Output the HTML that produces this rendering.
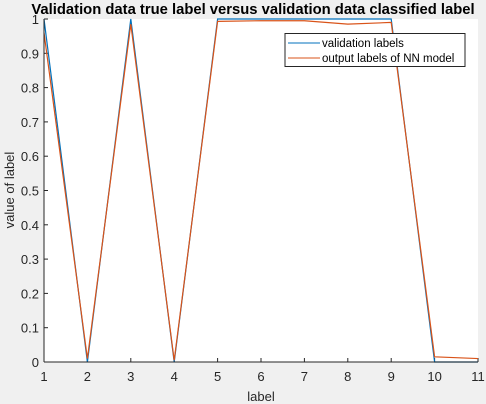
<!DOCTYPE html>
<html><head><meta charset="utf-8"><style>
body{margin:0;background:#f0f0f0;}
svg{display:block;font-family:"Liberation Sans",sans-serif;}
</style></head><body>
<svg id="chart" width="486" height="404">
<rect width="486" height="404" fill="#f0f0f0"/>
<rect x="44" y="19" width="434" height="343" fill="#fff"/>
<text x="253" y="14" text-anchor="middle" font-size="14.8" font-weight="bold" fill="#000">Validation data true label versus validation data classified label</text>
<g id="ticks"></g>
<g id="series"></g>
<line x1="44" y1="19" x2="44" y2="362" stroke="#262626"/>
<line x1="44" y1="362" x2="478" y2="362" stroke="#262626"/>
<text x="261" y="401" text-anchor="middle" font-size="13" fill="#262626">label</text>
<text transform="translate(14,190) rotate(-90)" text-anchor="middle" font-size="13" fill="#262626">value of label</text>
<g>
<rect x="285" y="33.5" width="180" height="33" fill="#fff" stroke="#262626" stroke-width="1"/>
<line x1="288" y1="43" x2="320" y2="43" stroke="#0072bd"/>
<text x="322" y="47" font-size="11.5" fill="#000">validation labels</text>
<line x1="288" y1="58" x2="320" y2="58" stroke="#d95319"/>
<text x="322" y="62" font-size="11.5" fill="#000">output labels of NN model</text>
</g>
</svg>
<script>
const xValues=[1,2,3,4,5,6,7,8,9,10,11];
const trueLabels=[1,0,1,0,1,1,1,1,1,0,0];
const nnOutput=[0.96,0.01,0.985,0.005,0.993,0.995,0.995,0.985,0.99,0.015,0.01];
const xTicks=[1,2,3,4,5,6,7,8,9,10,11];
const yTicks=[0,0.1,0.2,0.3,0.4,0.5,0.6,0.7,0.8,0.9,1];
const NS="http://www.w3.org/2000/svg";
function xs(v){return 44+(v-1)*(478-44)/10;}
function ys(v){return 362-v*343;}
const tg=document.getElementById('ticks');
xTicks.forEach(t=>{
  const l=document.createElementNS(NS,'line');
  l.setAttribute('x1',xs(t));l.setAttribute('x2',xs(t));l.setAttribute('y1',362);l.setAttribute('y2',358);l.setAttribute('stroke','#262626');
  
  
  tg.appendChild(l);
  const tx=document.createElementNS(NS,'text');
  tx.setAttribute('x',xs(t));tx.setAttribute('y',381);tx.setAttribute('text-anchor','middle');tx.setAttribute('font-size','13');tx.setAttribute('fill','#262626');
  tx.textContent=t;
  
  
  tg.appendChild(tx);
});
yTicks.forEach(t=>{
  const l=document.createElementNS(NS,'line');
  l.setAttribute('x1',44);l.setAttribute('x2',48);l.setAttribute('y1',ys(t));l.setAttribute('y2',ys(t));l.setAttribute('stroke','#262626');
  
  
  tg.appendChild(l);
  const tx=document.createElementNS(NS,'text');
  tx.setAttribute('x',39);tx.setAttribute('y',ys(t)+5);tx.setAttribute('text-anchor','end');tx.setAttribute('font-size','13');tx.setAttribute('fill','#262626');
  tx.textContent=String(t);
  
  
  tg.appendChild(tx);
});
const sg=document.getElementById('series');
function addLine(vals,color,name){
  const p=document.createElementNS(NS,'polyline');
  p.setAttribute('points',vals.map((v,i)=>xs(xValues[i])+','+ys(v)).join(' '));
  p.setAttribute('fill','none');p.setAttribute('stroke',color);p.setAttribute('stroke-width','1.2');
  
  
  sg.appendChild(p);
}
addLine(trueLabels,'#0072bd','validation-labels-line');
addLine(nnOutput,'#d95319','nn-output-line');
</script>
</body></html>
